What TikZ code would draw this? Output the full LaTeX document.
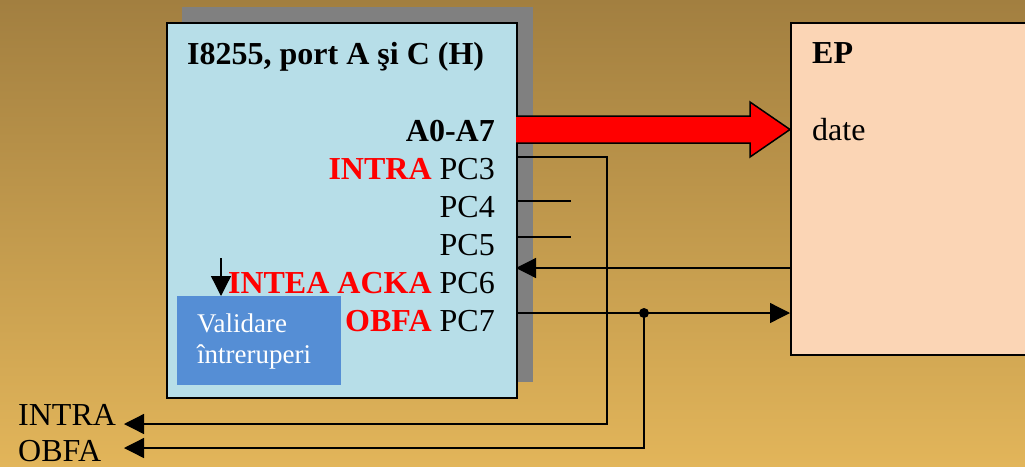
\documentclass[tikz,border=0pt]{standalone}
\usepackage{fontspec}
\setmainfont{Liberation Serif}
\usetikzlibrary{arrows.meta}
\usetikzlibrary{calc}

\definecolor{bgtop}{RGB}{162,127,64}
\definecolor{bgbottom}{RGB}{226,181,90}
\definecolor{portblue}{RGB}{183,222,232}
\definecolor{shadowgray}{RGB}{128,128,128}
\definecolor{epfill}{RGB}{251,213,181}
\definecolor{validblue}{RGB}{85,142,213}

\newcommand{\signame}[1]{{\color{red}\bfseries #1}}

\tikzset{
    box/.style={draw, line width=1.5pt, anchor=north west, inner sep=0pt},
    pin/.style={line width=1.3pt},
    pinarrow/.style={line width=1.3pt, -{Triangle[length=20pt,width=20pt]}},
    pinlabel/.style={anchor=base east, inner sep=0pt},
    plain/.style={anchor=base west, inner sep=0pt},
}

\begin{document}
\begin{tikzpicture}[x=1pt, y=-1pt, font=\fontsize{32}{38}\selectfont]
    \useasboundingbox (0,0) rectangle (1025,466);
    % background
    \shade[top color=bgtop, bottom color=bgbottom] (0,0) rectangle (1025,466);
    % draw boxes
    \node[anchor=north west, fill=shadowgray, inner sep=0pt, minimum width=351pt, minimum height=375pt] (shade) at (182,7) {};
    \node[box, fill=portblue, minimum width=350pt, minimum height=375pt] (port) at (166,22) {};
    \node[box, fill=epfill, minimum width=260pt, minimum height=332pt] (ep) at (790,22) {};
    \node[anchor=north west, fill=validblue, inner sep=0pt, minimum width=164pt, minimum height=89pt] (valid) at (177,296) {};
    % texts
    \node[plain, font=\fontsize{32}{38}\selectfont\bfseries] (title) at (187,64) {I8255, port A şi C (H)};
    \node[plain, font=\fontsize{32}{38}\selectfont\bfseries] (eptitle) at (812,63) {EP};
    \node[plain] (date) at (812,140) {date};
    \node[plain, align=left, text=white, font=\fontsize{27}{31}\selectfont] (validtext) at (197,363) {Validare\\întreruperi};
    \node[pinlabel] (a07lab) at (495,141) {\textbf{A0-A7}};
    \node[pinlabel] (pc3lab) at (495,179) {\signame{INTRA} PC3};
    \node[pinlabel] (pc4lab) at (495,217) {PC4};
    \node[pinlabel] (pc5lab) at (495,255) {PC5};
    \node[pinlabel] (pc6lab) at (495,293) {\signame{INTEA ACKA} PC6};
    \node[pinlabel] (pc7lab) at (495,331) {\signame{OBFA} PC7};
    \node[plain] (intralab) at (18,425) {INTRA};
    \node[plain] (obfalab) at (18,461) {OBFA};
    % pin coordinates
    \coordinate (a07) at (516,129.5);
    \coordinate (p3) at (516,157);
    \coordinate (p4) at (516,201);
    \coordinate (p5) at (516,237);
    \coordinate (p6) at (516,268);
    \coordinate (p7) at (516,313);
    \coordinate (p4end) at (571,201);
    \coordinate (p5end) at (571,237);
    \coordinate (intracol) at (607,424);
    \coordinate (obfadot) at (644,313);
    \coordinate (intraout) at (124,424);
    \coordinate (obfaout) at (124,448);
    \coordinate (inteatop) at (221,258);
    \coordinate (datein) at (ep.west |- a07);
    % data bus arrow
    \draw[line width=1.5pt, fill=red] ($(a07)+(0,-13.5)$) -- ($(datein)+(-40,-13.5)$) -- ($(datein)+(-40,-27.5)$)
        -- (datein) -- ($(datein)+(-40,27.5)$) -- ($(datein)+(-40,13.5)$) -- ($(a07)+(0,13.5)$);
    % control lines
    \draw[pinarrow] (p3) -| (intracol) -- (intraout);
    \draw[pin] (p4) -- (p4end);
    \draw[pin] (p5) -- (p5end);
    \draw[pinarrow] (ep.west |- p6) -- (p6);
    \draw[pinarrow] (p7) -- (ep.west |- p7);
    \draw[pinarrow] (obfadot) |- (obfaout);
    \fill (obfadot) circle (5pt);
    \draw[pinarrow] (inteatop) -- (valid.north -| inteatop);
\end{tikzpicture}
\end{document}
